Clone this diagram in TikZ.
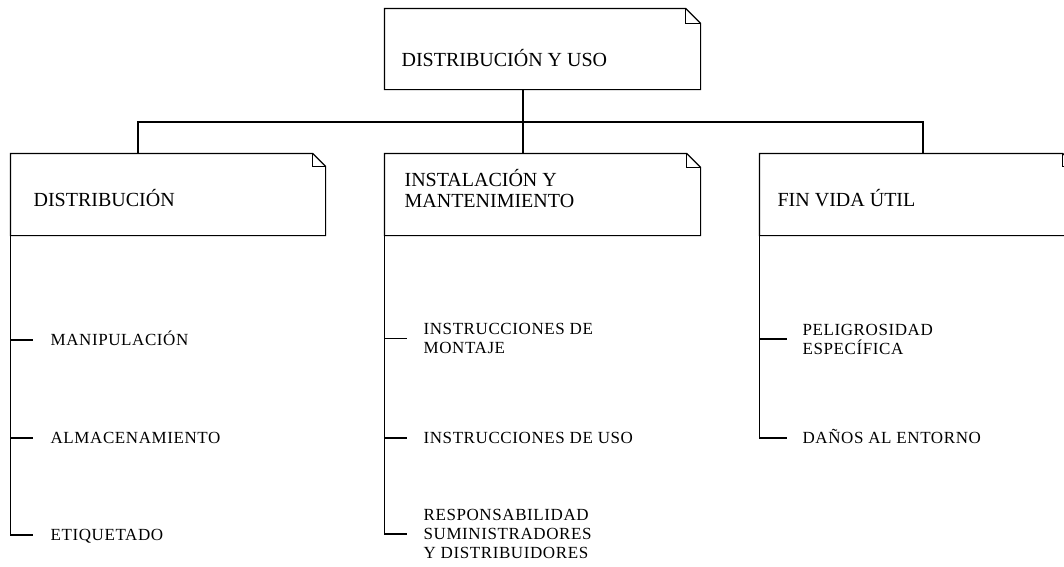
\documentclass[tikz,border=0pt]{standalone}
\usepackage{fontspec}
\setmainfont{Liberation Serif}
\newfontfamily\itemfamily[LetterSpace=3.5]{Liberation Serif}
\begin{document}
\begin{tikzpicture}[x=1pt,y=-1pt,line width=1.2pt,
  box/.style={draw=none,rectangle,minimum width=#1,minimum height=81pt,inner sep=0pt},
  head/.style={font=\fontsize{20}{21}\selectfont,align=left,inner sep=0pt},
  itemone/.style={anchor=west,font=\itemfamily\fontsize{17}{19}\selectfont,inner sep=0pt,text height=11.4pt,text depth=0pt},
  itemmulti/.style={anchor=west,font=\itemfamily\fontsize{17}{19}\selectfont,align=left,inner sep=0pt}]
\path[use as bounding box] (0,0) rectangle (1064,566);
\clip (0,0) rectangle (1064,566);
% boxes
\node[box=315pt,minimum height=80pt] (top) at (542.5,49) {};
\node[box=314pt] (b1) at (168,194.5) {};
\node[box=315pt] (b2) at (542.5,194.5) {};
\node[box=315pt] (b3) at (917.5,194.5) {};
\foreach \n/\f in {top/15,b1/13,b2/14,b3/13}{
  \draw[line join=miter] (\n.north west) -- ([xshift=-\f pt]\n.north east)
     -- ([yshift=-\f pt]\n.north east) -- (\n.south east) -- (\n.south west) -- cycle;
  \draw ([xshift=-\f pt]\n.north east) -- ([xshift=-\f pt,yshift=-\f pt]\n.north east)
     -- ([yshift=-\f pt]\n.north east);
}
% header texts
\node[head,anchor=base west] (topt) at (401,66.5) {DISTRIBUCIÓN Y USO};
\node[head,anchor=base west] (b1t) at (33,206.5) {DISTRIBUCIÓN};
\node[head,anchor=west] (b2t) at (404,189) {INSTALACIÓN Y\\MANTENIMIENTO};
\node[head,anchor=base west] (b3t) at (777,206.5) {FIN VIDA ÚTIL};
% tree connectors
\coordinate (hub) at (523,122);
\draw ([xshift=-19.5pt]top.south) -- (hub);
\draw ([xshift=-30pt]b1.north) |- ([xshift=5.5pt]b3.north |- hub) -- ([xshift=5.5pt]b3.north);
\draw ([xshift=-19.5pt]b2.north) -- (hub);
% items
\node[itemone] (i11) at (50,340) {MANIPULACIÓN};
\node[itemone] (i12) at (50,438) {ALMACENAMIENTO};
\node[itemone] (i13) at (50,535) {ETIQUETADO};
\node[itemmulti] (i21) at (423,338.5) {INSTRUCCIONES DE\\MONTAJE};
\node[itemone] (i22) at (423,438) {INSTRUCCIONES DE USO};
\node[itemmulti] (i23) at (423,534) {RESPONSABILIDAD\\SUMINISTRADORES\\Y DISTRIBUIDORES};
\node[itemmulti] (i31) at (802,339) {PELIGROSIDAD\\ESPECÍFICA};
\node[itemone] (i32) at (802,438) {DAÑOS AL ENTORNO};
% list connectors
\draw (b1.south west) |- ([xshift=-17pt]i13.west);
\foreach \i in {i11,i12}{\draw (b1.south west |- \i.west) -- ([xshift=-17pt]\i.west);}
\draw (b2.south west) |- ([xshift=-16pt]i23.west);
\foreach \i in {i21,i22}{\draw (b2.south west |- \i.west) -- ([xshift=-16pt]\i.west);}
\draw (b3.south west) |- ([xshift=-15pt]i32.west);
\draw (b3.south west |- i31.west) -- ([xshift=-15pt]i31.west);
\end{tikzpicture}
\end{document}
